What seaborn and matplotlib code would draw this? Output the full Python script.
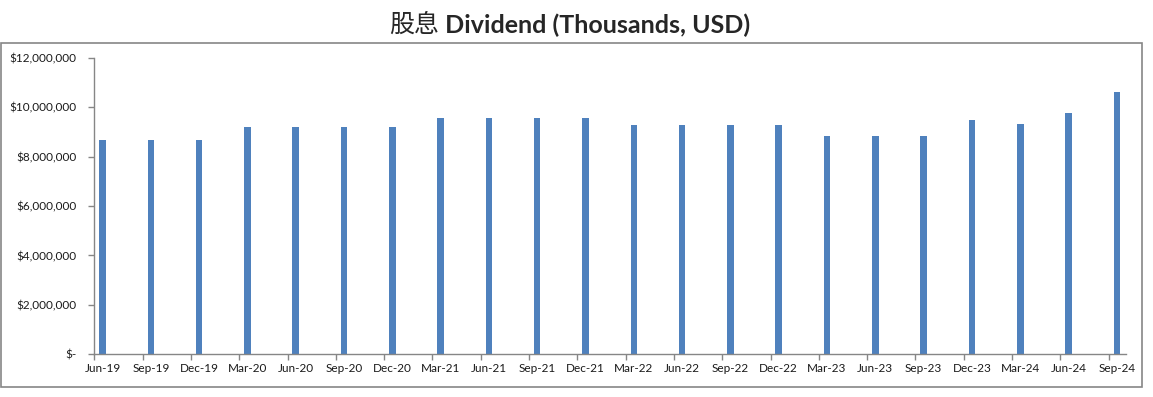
import matplotlib
matplotlib.use("Agg")
import matplotlib.pyplot as plt
from matplotlib.patches import Rectangle
import numpy as np
import seaborn as sns

# quarter labels and dividend values (thousands USD)
quarters = [
    "Jun-19", "Sep-19", "Dec-19", "Mar-20", "Jun-20", "Sep-20", "Dec-20",
    "Mar-21", "Jun-21", "Sep-21", "Dec-21", "Mar-22", "Jun-22", "Sep-22",
    "Dec-22", "Mar-23", "Jun-23", "Sep-23", "Dec-23", "Mar-24", "Jun-24",
    "Sep-24",
]
dividend = [
    8680000, 8680000, 8680000, 9200000, 9200000, 9200000, 9200000,
    9560000, 9560000, 9560000, 9560000, 9280000, 9280000, 9280000,
    9280000, 8830000, 8830000, 8830000, 9480000, 9320000, 9760000,
    10610000,
]
y_ticks = [0, 2000000, 4000000, 6000000, 8000000, 10000000, 12000000]

BAR_COLOR = "#4F81BD"
AXIS_COLOR = "#868686"

sns.set_style("white")
plt.rcParams["font.family"] = ["Lato", "Noto Sans CJK SC", "DejaVu Sans"]

fig = plt.figure(figsize=(11.53, 3.97), dpi=100)
ax = fig.add_axes([0.0818, 0.1076, 0.8948, 0.7471])

sns.barplot(x=quarters, y=dividend, color=BAR_COLOR, saturation=1,
            width=0.135, linewidth=0, ax=ax)

n = len(quarters)
offset = 0.17
ax.set_xlim(-offset, n - 1 + 0.19)
ax.set_ylim(0, 12000000)

# category tick marks sit left of each bar, labels under the bars
ax.set_xticks(np.arange(n) - offset)
ax.set_xticklabels([])
ax.set_xticks(np.arange(n), minor=True)
ax.set_xticklabels(quarters, minor=True)
ax.tick_params(axis="x", which="major", direction="out", length=4,
               width=1, color=AXIS_COLOR, bottom=True)
ax.tick_params(axis="x", which="minor", length=0, pad=6, labelsize=8.5,
               labelcolor="#1a1a1a")

ax.set_yticks(y_ticks)
ax.set_yticklabels(["$-" if v == 0 else f"${v:,.0f}" for v in y_ticks])
ax.tick_params(axis="y", direction="out", length=4, width=1,
               color=AXIS_COLOR, left=True, pad=9, labelsize=8.5,
               labelcolor="#1a1a1a")

for side in ["top", "right"]:
    ax.spines[side].set_visible(False)
for side in ["left", "bottom"]:
    ax.spines[side].set_color(AXIS_COLOR)
    ax.spines[side].set_linewidth(1)
ax.set_xlabel("")
ax.set_ylabel("")

# outer chart frame
frame = Rectangle((0.5 / 1153, 1 - 387 / 397), 1141 / 1153, 344 / 397,
                  transform=fig.transFigure, fill=False,
                  edgecolor=AXIS_COLOR, linewidth=1.2)
fig.patches.append(frame)

# title: chinese part regular, english part bold, centred over the frame
t1 = fig.text(0.33, 1 - 25 / 397, "股息", fontsize=18,
              family=["Noto Sans CJK SC"], va="center", ha="left")
t2 = ax.annotate(" Dividend (Thousands, USD)", xy=(1, 0.5), xycoords=t1,
                 va="center", ha="left", fontsize=18, fontweight="bold",
                 annotation_clip=False)
fig.canvas.draw()
r = fig.canvas.get_renderer()
b1 = t1.get_window_extent(r)
b2 = t2.get_window_extent(r)
total = b2.x1 - b1.x0
t1.set_x((570 - total / 2) / 1153)

fig.savefig("out.png", dpi=100)
